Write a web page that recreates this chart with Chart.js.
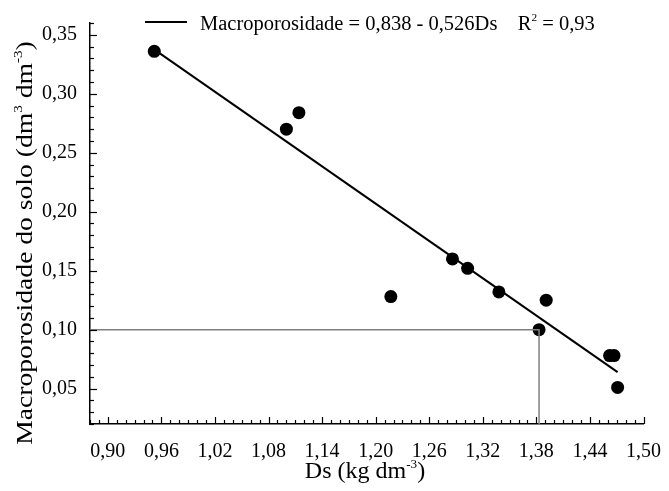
<!DOCTYPE html>
<html>
<head>
<meta charset="utf-8">
<script src="https://cdn.jsdelivr.net/npm/chart.js@4.4.1/dist/chart.umd.min.js"></script>
<style>
  html, body { margin: 0; padding: 0; background: #fff; }
  #wrap { width: 669px; height: 491px; }
</style>
</head>
<body>
<div id="wrap"><canvas id="chart" width="669" height="491"></canvas></div>
<script>
// observed points (Ds, macroporosity)
const dsValues    = [0.952, 1.100, 1.114, 1.217, 1.286, 1.303, 1.338, 1.383, 1.391, 1.462, 1.467, 1.471];
const macroValues = [0.336, 0.270, 0.284, 0.128, 0.160, 0.152, 0.132, 0.100, 0.125, 0.078, 0.078, 0.051];

// fitted line ends, as drawn
const fitDs    = [0.955, 1.471];
const fitMacro = [0.336, 0.064];

// guide lines at Ds = 1.383, macro = 0.10
const guideDs    = [0.88, 1.383, 1.383];
const guideMacro = [0.100, 0.100, 0.02];

const xTicks = [0.90, 0.96, 1.02, 1.08, 1.14, 1.20, 1.26, 1.32, 1.38, 1.44, 1.50];
const yTicks = [0.05, 0.10, 0.15, 0.20, 0.25, 0.30, 0.35];

// texts, [text, superscript?]
const legendParts = [['Macroporosidade = 0,838 - 0,526Ds    R', false], ['2', true], [' = 0,93', false]];
const xTitle = [['Ds (kg dm', false], ['-3', true], [')', false]];
const yTitle = [['Macroporosidade do solo (dm', false], ['3', true], [' dm', false], ['-3', true], [')', false]];
const serif = '"Liberation Serif", "Times New Roman", serif';

const toXY = (xs, ys) => xs.map((x, i) => ({ x: x, y: ys[i] }));
const fmt = v => Number(v).toFixed(2).replace('.', ',');

function richWidth(ctx, parts, size) {
  let w = 0;
  parts.forEach(([t, sup]) => {
    ctx.font = (sup ? size * 0.55 : size) + 'px ' + serif;
    w += ctx.measureText(t).width;
  });
  return w;
}

// draws text with small raised parts, starting at x (or centred), baseline y
function drawRich(ctx, parts, x, y, size, centred) {
  let cx = centred ? x - richWidth(ctx, parts, size) / 2 : x;
  ctx.textBaseline = 'alphabetic';
  ctx.textAlign = 'left';
  parts.forEach(([t, sup]) => {
    ctx.font = (sup ? size * 0.55 : size) + 'px ' + serif;
    ctx.fillText(t, cx, sup ? y - size * 0.42 : y);
    cx += ctx.measureText(t).width;
  });
}

// inward tick marks (major + minor every 0.01), axis titles and the legend
const extras = {
  id: 'extras',
  afterDraw(chart) {
    const ctx = chart.ctx;
    const xs = chart.scales.x, ys = chart.scales.y;
    const area = chart.chartArea;
    ctx.save();
    ctx.strokeStyle = '#000';
    ctx.lineWidth = 1.2;
    for (let i = 88; i <= 150; i++) {
      const px = Math.round(xs.getPixelForValue(i / 100)) + 0.5;
      const major = (i - 90) % 6 === 0;
      ctx.beginPath();
      ctx.moveTo(px, area.bottom);
      ctx.lineTo(px, area.bottom - (major ? 7 : 4));
      ctx.stroke();
    }
    for (let i = 2; i <= 36; i++) {
      const py = Math.round(ys.getPixelForValue(i / 100)) + 0.5;
      const major = i % 5 === 0;
      ctx.beginPath();
      ctx.moveTo(area.left, py);
      ctx.lineTo(area.left + (major ? 7 : 4), py);
      ctx.stroke();
    }

    ctx.fillStyle = '#000';
    drawRich(ctx, xTitle, 365, 478, 24, true);

    ctx.save();
    ctx.translate(32, 243);
    ctx.rotate(-Math.PI / 2);
    ctx.scale(1.2, 1);
    drawRich(ctx, yTitle, 0, 0, 23, true);
    ctx.restore();

    // legend
    ctx.lineWidth = 2;
    ctx.beginPath();
    ctx.moveTo(145, 22);
    ctx.lineTo(187, 22);
    ctx.stroke();
    drawRich(ctx, legendParts, 200, 30, 20.5, false);
    ctx.restore();
  }
};

new Chart(document.getElementById('chart'), {
  type: 'scatter',
  data: {
    datasets: [
      {
        label: 'guide',
        data: toXY(guideDs, guideMacro),
        showLine: true,
        borderColor: '#808080',
        borderWidth: 1.5,
        pointRadius: 0,
        fill: false
      },
      {
        label: 'fit',
        data: toXY(fitDs, fitMacro),
        showLine: true,
        borderColor: '#000',
        borderWidth: 2,
        pointRadius: 0,
        fill: false
      },
      {
        label: 'observed',
        data: toXY(dsValues, macroValues),
        backgroundColor: '#000',
        borderColor: '#000',
        pointRadius: 6.5,
        pointBorderWidth: 0
      }
    ]
  },
  options: {
    responsive: false,
    animation: false,
    layout: { padding: { top: 23, right: 21, left: 0, bottom: 0 } },
    plugins: {
      legend: { display: false },
      tooltip: { enabled: false }
    },
    scales: {
      x: {
        type: 'linear',
        min: 0.88,
        max: 1.50,
        afterBuildTicks: s => { s.ticks = xTicks.map(v => ({ value: v })); },
        afterFit: s => { s.height = 67; },
        grid: { display: false },
        border: { display: true, color: '#000', width: 1.5 },
        ticks: {
          callback: v => fmt(v),
          color: '#000',
          font: { family: serif, size: 20 },
          padding: 8,
          maxRotation: 0,
          autoSkip: false
        }
      },
      y: {
        type: 'linear',
        min: 0.02,
        max: 0.36,
        afterBuildTicks: s => { s.ticks = yTicks.map(v => ({ value: v })); },
        afterFit: s => { s.width = 90; },
        grid: { display: false },
        border: { display: true, color: '#000', width: 1.5 },
        ticks: {
          callback: v => fmt(v),
          color: '#000',
          font: { family: serif, size: 20 },
          padding: 5,
          autoSkip: false
        }
      }
    }
  },
  plugins: [extras]
});
</script>
</body>
</html>
